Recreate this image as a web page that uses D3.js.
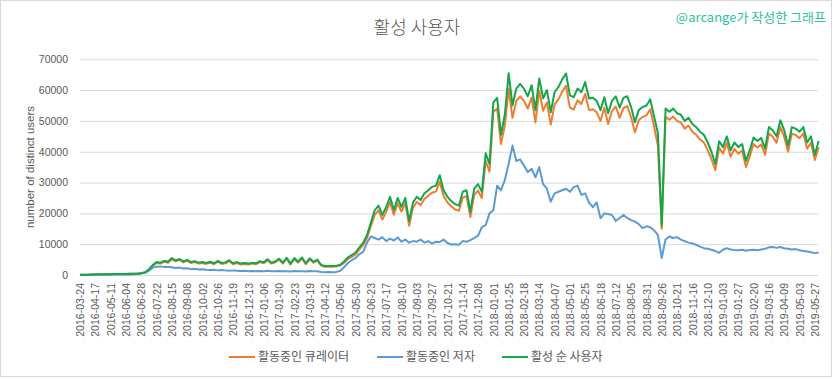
<!DOCTYPE html>
<html><head><meta charset="utf-8">
<script src="https://cdn.jsdelivr.net/npm/d3@7"></script>
<style>
html,body{margin:0;padding:0;background:#fff;}
svg{display:block;}
</style></head>
<body>
<svg id="chart" width="833" height="379"></svg>
<script>
// X tick labels (one every 24 daily categories)
const tickLabels = ["2016-03-24","2016-04-17","2016-05-11","2016-06-04","2016-06-28","2016-07-22","2016-08-15","2016-09-08","2016-10-02","2016-10-26","2016-11-19","2016-12-13","2017-01-06","2017-01-30","2017-02-23","2017-03-19","2017-04-12","2017-05-06","2017-05-30","2017-06-23","2017-07-17","2017-08-10","2017-09-03","2017-09-27","2017-10-21","2017-11-14","2017-12-08","2018-01-01","2018-01-25","2018-02-18","2018-03-14","2018-04-07","2018-05-01","2018-05-25","2018-06-18","2018-07-12","2018-08-05","2018-08-31","2018-09-26","2018-10-21","2018-11-16","2018-12-10","2019-01-03","2019-01-27","2019-02-20","2019-03-16","2019-04-09","2019-05-03","2019-05-27"];
const yTicks = [0,10000,20000,30000,40000,50000,60000,70000];
const seriesNames = ["활동중인 큐레이터","활동중인 저자","활성 순 사용자"];
const seriesColors = ["#ED7D31","#5B9BD5","#14A64B"];
const tickEvery = 24;      // categories between x labels
const sampleEvery = 6;     // categories between stored samples
const totalCategories = 1157;

const curators = [50,80,100,130,170,210,240,250,270,290,310,330,350,370,400,460,
580,850,1700,3000,3900,3700,4300,4000,5100,4400,4900,4100,4600,3900,4200,3700,3900,3600,4000,3500,4300,3600,3800,4500,3500,3900,3400,3600,3400,3700,3500,4200,3800,4800,3700,4100,5000,3700,5300,3400,5200,4000,5400,3500,5100,4000,4700,
3100,2700,2700,2700,2800,3100,4000,5200,5900,6700,8300,9700,12000,
15800,19500,21000,18000,20500,23700,19600,23300,20600,23300,16000,21800,23700,22600,24700,25700,26700,27100,30300,25600,23600,22300,21300,20800,25100,25600,18800,26000,27400,25000,
37000,33500,53000,54000,42500,48500,
60500,51000,56500,58000,56500,54000,57600,49500,59800,53300,56000,48800,55300,57000,59500,61400,54300,53700,56700,55500,58800,53500,53800,52800,
50000,54300,49000,53200,54700,51000,54200,54800,51200,46300,50200,51300,51800,53800,48200,42000,
15000,
51300,50400,51400,50000,49500,47500,48500,46500,45500,44000,43000,40600,37600,
34000,41300,39400,42900,38400,40900,39400,40400,35000,38500,42500,41400,42400,39000,45900,44900,42900,48000,44900,40000,45900,45400,44400,45900,41000,43000,37300,41500];
const authors = [20,30,40,50,60,80,100,100,120,130,150,160,180,200,230,300,
500,700,1400,2400,2700,2800,2600,2700,2500,2300,2400,2100,2200,1900,2000,1800,1900,1700,1600,1700,1500,1600,1500,1400,1500,1400,1300,1350,1250,1300,1200,1300,1250,1350,1200,1250,1300,1200,1250,1150,1300,1200,1250,1150,1300,1200,1250,
1000,900,950,900,1000,1400,2500,3900,4800,5500,6800,7500,10500,
12500,12000,11500,12300,11000,11800,11200,12200,10800,11500,10500,11000,10800,11500,10500,11000,10200,10800,10700,11500,10400,9900,10000,9800,11000,10800,11300,12000,12800,15500,
16200,20000,21000,29000,27500,30800,
36000,42000,37000,37500,35500,33400,34500,31700,35000,29500,28000,23800,26500,27000,27500,28000,27000,28500,29000,26000,26500,23500,22000,23600,
18400,20000,19800,19500,17500,18500,19500,18500,17800,17300,16500,15200,15800,15500,14500,13000,
5500,
11500,12500,12000,12300,11500,11000,10500,10200,9800,9200,8700,8500,8200,
7800,7200,8200,8700,8300,8100,8000,8200,7900,8100,8200,8000,8300,8500,9000,9100,8800,9100,8700,8500,8300,8400,8000,7800,7600,7400,7100,7300];
const activeUsers = [50,80,100,130,180,220,250,260,280,300,320,340,360,380,420,480,
600,900,1800,3200,4200,4000,4600,4300,5500,4700,5200,4400,4900,4200,4500,4000,4200,3900,4300,3800,4600,3900,4100,4800,3800,4200,3700,3900,3700,4000,3800,4500,4100,5100,4000,4400,5300,4000,5600,3700,5500,4300,5700,3800,5400,4300,5000,
3300,2900,2900,2900,3000,3300,4400,5700,6500,7300,9000,10500,13000,
17000,21000,22500,19500,22000,25400,21100,25000,22100,25000,17500,23500,25400,24300,26500,27500,28600,29000,32400,27500,25400,24000,23000,22500,27000,27500,20500,28000,29500,27000,
39500,36000,56000,57500,45500,52000,
65500,55000,60500,62000,60500,58000,61600,53500,63800,57300,60000,52800,59300,61000,63500,65400,58300,57700,60500,59300,62600,57300,57500,56500,
53500,57700,52500,56500,58000,54300,57500,58000,54500,49600,53500,54500,55000,57000,51500,46000,
16000,
54000,53000,54000,52500,52000,50000,51000,49000,48000,46500,45500,43000,40000,
36000,43400,41500,45000,40500,43000,41500,42500,37000,40500,44600,43500,44500,41000,48000,47000,45000,50200,47000,42000,48000,47500,46500,48000,43000,45000,39000,43500];

const seriesValues = [curators, authors, activeUsers];

const svg = d3.select("#chart");
const W = 833, H = 379;
const plotLeft = 80, plotRight = 818, plotTop = 59.3, plotBottom = 275;

// outer border
svg.append("rect").attr("x",0.5).attr("y",0.5).attr("width",W-2).attr("height",H-3)
  .attr("fill","#fff").attr("stroke","#d9d9d9");

const x = d3.scaleLinear().domain([0,totalCategories]).range([plotLeft,plotRight]);
const y = d3.scaleLinear().domain([0,70000]).range([plotBottom,plotTop]);

// gridlines + y axis
const yAxis = d3.axisLeft(y).tickValues(yTicks).tickFormat(d3.format("d"))
  .tickSize(-(plotRight-plotLeft)).tickPadding(12);
const gy = svg.append("g").attr("transform",`translate(${plotLeft},0)`).call(yAxis);
gy.select(".domain").remove();
gy.selectAll(".tick line").attr("stroke","#d9d9d9").attr("stroke-width",1);
gy.selectAll(".tick text").attr("fill","#595959")
  .style("font-family","'Liberation Sans', Arial, sans-serif").style("font-size","10.5px");

// x axis labels
const xAxis = d3.axisBottom(x).tickValues(tickLabels.map((d,i)=>i*tickEvery))
  .tickFormat((d,i)=>tickLabels[i]).tickSize(0);
const gx = svg.append("g").attr("transform",`translate(0,${plotBottom})`).call(xAxis);
gx.select(".domain").remove();
gx.selectAll(".tick text")
  .attr("fill","#595959")
  .style("font-family","'Liberation Sans', Arial, sans-serif").style("font-size","10.5px")
  .attr("text-anchor","end")
  .attr("transform","rotate(-90)")
  .attr("x",-8).attr("y",0).attr("dy","0.35em");

// lines
const line = d3.line().x((d,i)=>x(i*sampleEvery)).y(d=>y(d));
seriesValues.forEach((vals,si)=>{
  svg.append("path").datum(vals)
    .attr("fill","none").attr("stroke",seriesColors[si])
    .attr("stroke-width",2).attr("stroke-linejoin","round")
    .attr("d",line);
});

// y axis title
svg.append("text").attr("transform","translate(30,167) rotate(-90)")
  .attr("text-anchor","middle").attr("dy","0.35em")
  .attr("fill","#595959").style("font-family","'Liberation Sans', Arial, sans-serif")
  .style("font-size","11.5px").text("number of distinct users");

// title
svg.append("text").attr("x",417).attr("y",34).attr("text-anchor","middle")
  .attr("fill","#595959").style("font-family","'Noto Sans CJK KR', sans-serif")
  .style("font-weight","300")
  .style("font-size","18px").text("활성 사용자");

// watermark
svg.append("text").attr("x",826).attr("y",22).attr("text-anchor","end")
  .attr("fill","#2EC29E").style("font-family","'Noto Sans CJK KR', sans-serif")
  .style("font-size","13px").text("@arcange가 작성한 그래프");

// legend
const legendX = [229, 377, 502];
const lg = svg.append("g");
seriesNames.forEach((name,i)=>{
  const g = lg.append("g").attr("transform",`translate(${legendX[i]},357)`);
  g.append("line").attr("x1",0).attr("x2",26).attr("y1",0).attr("y2",0)
    .attr("stroke",seriesColors[i]).attr("stroke-width",2);
  g.append("text").attr("x",29).attr("y",0).attr("dy","0.35em")
    .attr("fill","#595959").style("font-family","'Noto Sans CJK KR', sans-serif")
    .style("font-size","12px").text(name);
});
</script>
</body></html>
